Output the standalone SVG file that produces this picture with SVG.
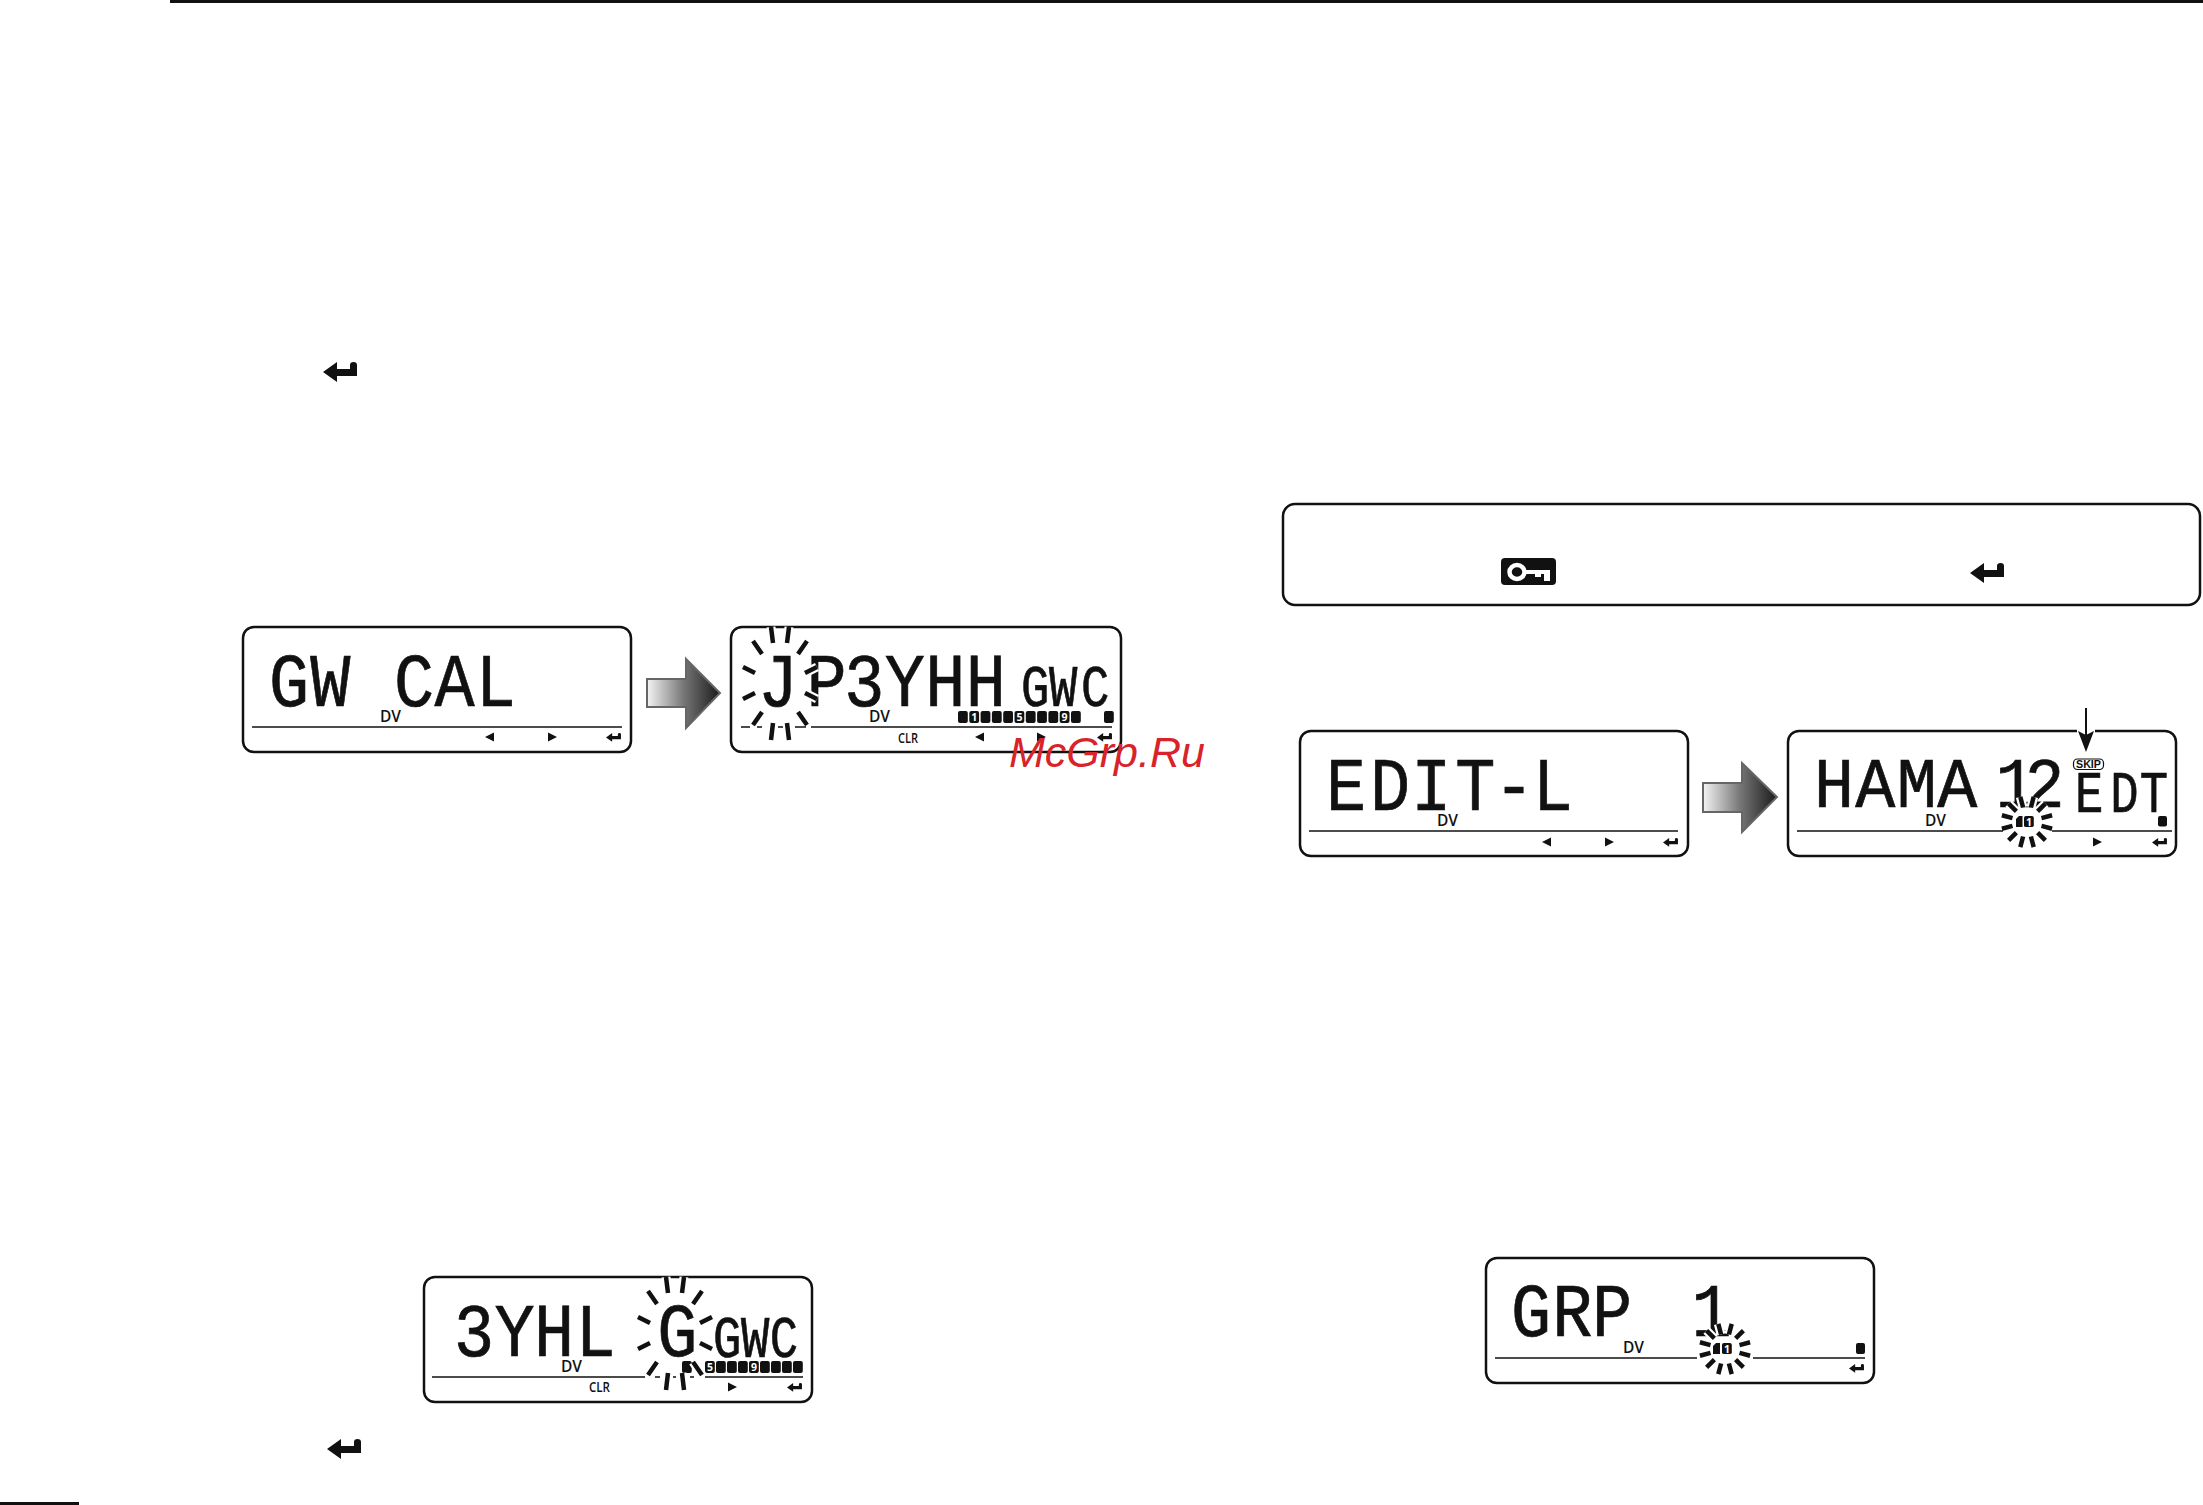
<svg xmlns="http://www.w3.org/2000/svg" width="2203" height="1505" viewBox="0 0 2203 1505">
<style>
text{font-family:"Liberation Sans",Arial,sans-serif}
.panel{fill:#fff;stroke:#111;stroke-width:2.5}
.rule{stroke:#111;stroke-width:1.6;fill:none}
.lcd{font-family:"Liberation Mono",monospace;font-size:76px;fill:#111;stroke:#111;stroke-width:.7}
.lcds{font-family:"Liberation Mono",monospace;font-size:59px;fill:#111;stroke:#111;stroke-width:.7}
.dv{font-family:"Open Sans",sans-serif;font-size:15.500px;font-weight:600;fill:#111}
.clr{font-family:"Open Sans",sans-serif;font-size:15px;font-weight:600;fill:#111}
.num{font-family:"Open Sans",sans-serif;font-size:10.500px;font-weight:700;fill:#fff;text-anchor:middle}
.ink{fill:#111}
.halo{stroke:#fff;stroke-width:9;fill:none}
.ray{stroke:#111;stroke-width:4.500;fill:none}
.block{stroke:#666;stroke-width:2;fill:url(#gr)}
</style>
<defs>
<linearGradient id="gr" x1="0" x2="1" y1="0" y2="0"><stop offset="0" stop-color="#f4f4f4"/><stop offset="0.5" stop-color="#777"/><stop offset="1" stop-color="#1a1a1a"/></linearGradient>
<path id="ret" d="M0 10L14 0V7H27V3Q27 0 30.500 0Q34 0 34 3V14H14V20Z"/>
<path id="lt" d="M0 0L9 -4.500V4.500Z"/>
<path id="rt" d="M0 -4.500L9 0L0 4.500Z"/>
<rect id="cell" width="9.800" height="12" rx="2"/>
<path id="big" d="M-9 -56L-7 -40M9 -56L7 -40M-27 -42L-18 -29M27 -42L18 -29M-37 -16L-25 -10M37 -16L25 -10M-37 16L-25 10M37 16L25 10M-27 42L-18 29M27 42L18 29M-9 57L-7 40M9 57L7 40"/>
<path id="small" d="M14.500 3.900L25.100 6.700M10.600 10.600L18.400 18.400M3.900 14.500L6.700 25.100M-14.500 3.900L-25.100 6.700M-10.600 10.600L-18.400 18.400M-3.900 14.500L-6.700 25.100M14.500 -3.900L25.100 -6.700M10.600 -10.600L18.400 -18.400M3.900 -14.500L6.700 -25.100M-14.500 -3.900L-25.100 -6.700M-10.600 -10.600L-18.400 -18.400M-3.900 -14.500L-6.700 -25.100"/>
</defs>
<rect width="2203" height="1505" fill="#fff"/>
<g id="page-rules">
<rect x="170" y="0" width="2033" height="3" class="ink"/>
<rect x="0" y="1502" width="79" height="3" class="ink"/>
<use href="#ret" class="ink" transform="translate(323,362)"/>
<use href="#ret" class="ink" transform="translate(327,1439)"/>
</g>

<g id="panel-gw-cal">
<rect x="243" y="627" width="388" height="125" rx="11" class="panel"/>
<text class="lcd" transform="translate(269,706) scale(.88,1)" x="0 47 94 142 188 235">GW CAL</text>
<text class="dv" x="380" y="722">DV</text>
<path class="rule" d="M252 727H622"/>
<use href="#lt" class="ink" x="485" y="737"/>
<use href="#rt" class="ink" x="548" y="737"/>
<use href="#ret" class="ink" transform="translate(606,733) scale(.44)"/>
</g>

<g id="panel-jp3yhh">
<rect x="731" y="627" width="390" height="125" rx="11" class="panel"/>
<text class="lcd" transform="translate(758,706) scale(.88,1)" x="0 55 98 144 190 236">JP3YHH</text>
<text class="lcds" transform="translate(1021,706) scale(.8,1)" x="0 35 75">GWC</text>
<use href="#big" class="halo" x="780" y="683"/>
<use href="#big" class="ray" x="780" y="683"/>
<text class="dv" x="869" y="722">DV</text>
<g class="ink">
<use href="#cell" x="958" y="711"/><use href="#cell" x="969.300" y="711"/><use href="#cell" x="980.600" y="711"/><use href="#cell" x="991.900" y="711"/><use href="#cell" x="1003.200" y="711"/><use href="#cell" x="1014.500" y="711"/><use href="#cell" x="1025.800" y="711"/><use href="#cell" x="1037.100" y="711"/><use href="#cell" x="1048.400" y="711"/><use href="#cell" x="1059.700" y="711"/><use href="#cell" x="1071" y="711"/><use href="#cell" x="1104" y="711"/>
</g>
<text class="num" x="974.200" y="721">1</text><text class="num" x="1019.400" y="721">5</text><text class="num" x="1064.600" y="721">9</text>
<path class="rule" d="M741 727H750M757 727H762M778 727H783M795 727H806M811 727H1112"/>
<text class="clr" x="898" y="743" textLength="20" lengthAdjust="spacingAndGlyphs">CLR</text>
<use href="#lt" class="ink" x="975" y="737"/>
<use href="#rt" class="ink" x="1037" y="737"/>
<use href="#ret" class="ink" transform="translate(1097,733) scale(.44)"/>
</g>

<g id="panel-3yhl">
<rect x="424" y="1277" width="388" height="125" rx="11" class="panel"/>
<text class="lcd" transform="translate(454,1356) scale(.88,1)" x="0 46 91 138 186 231">3YHL G</text>
<text class="lcds" transform="translate(713,1357) scale(.8,1)" x="0 35 71">GWC</text>
<g class="ink">
<use href="#cell" x="682" y="1361"/><use href="#cell" x="705" y="1361"/><use href="#cell" x="716" y="1361"/><use href="#cell" x="727" y="1361"/><use href="#cell" x="738" y="1361"/><use href="#cell" x="749" y="1361"/><use href="#cell" x="760" y="1361"/><use href="#cell" x="771" y="1361"/><use href="#cell" x="782" y="1361"/><use href="#cell" x="793" y="1361"/>
</g>
<text class="num" x="710" y="1371">5</text><text class="num" x="754" y="1371">9</text>
<use href="#big" class="halo" x="675" y="1333"/>
<use href="#big" class="ray" x="675" y="1333"/>
<text class="dv" x="561" y="1372">DV</text>
<path class="rule" d="M432 1377H645M655 1377H660M673 1377H676M690 1377H694M705 1377H803"/>
<text class="clr" x="589" y="1392" textLength="21" lengthAdjust="spacingAndGlyphs">CLR</text>
<use href="#rt" class="ink" x="728" y="1387"/>
<use href="#ret" class="ink" transform="translate(787,1383) scale(.44)"/>
</g>

<g id="note-box">
<rect x="1283" y="504" width="917" height="101" rx="12" class="panel"/>
<rect x="1501" y="558" width="55" height="27" rx="4" class="ink"/>
<ellipse cx="1517" cy="572" rx="7.500" ry="7" fill="none" stroke="#fff" stroke-width="4.500"/>
<path fill="#fff" d="M1525 570H1550V581H1544V574H1541V577H1535V574H1525Z"/>
<use href="#ret" class="ink" transform="translate(1970,563)"/>
</g>

<g id="panel-edit-l">
<rect x="1300" y="731" width="388" height="125" rx="11" class="panel"/>
<text class="lcd" transform="translate(1326,810) scale(.88,1)" x="0 50 97 147 191 235">EDIT-L</text>
<text class="dv" x="1437" y="826">DV</text>
<path class="rule" d="M1309 831H1678"/>
<use href="#lt" class="ink" x="1542" y="842"/>
<use href="#rt" class="ink" x="1605" y="842"/>
<use href="#ret" class="ink" transform="translate(1663,838) scale(.44)"/>
</g>

<g id="panel-hama">
<rect x="1788" y="731" width="388" height="125" rx="11" class="panel"/>
<text class="lcd" style="font-size:71px" transform="translate(1814,807) scale(.94,1)" x="0 44 88 131 175 193 224">HAMA 12</text>
<text class="lcds" transform="translate(2075,812) scale(.8,1)" x="0 44 81">EDT</text>
<rect x="2073.500" y="759" width="30" height="10.500" rx="4" fill="#fff" stroke="#111" stroke-width="1.200"/>
<text x="2088.500" y="768" font-size="10.500" font-weight="700" text-anchor="middle" fill="#111" textLength="25" lengthAdjust="spacingAndGlyphs">SKIP</text>
<use href="#small" class="halo" x="2027" y="822"/>
<path class="ink" d="M2016 819L2019 816H2022.500V827H2016Z"/>
<use href="#cell" class="ink" transform="translate(2024,816) scale(1,.92)"/>
<text class="num" x="2029" y="825.500">1</text>
<use href="#small" class="ray" x="2027" y="822"/>
<text class="dv" x="1925" y="826">DV</text>
<path class="rule" d="M1797 831H2003M2052 831H2172"/>
<rect x="2158" y="816" width="9" height="10.500" rx="2" class="ink"/>
<use href="#rt" class="ink" x="2093" y="842"/>
<use href="#ret" class="ink" transform="translate(2152,838) scale(.44)"/>
</g>

<g id="panel-grp">
<rect x="1486" y="1258" width="388" height="125" rx="11" class="panel"/>
<text class="lcd" transform="translate(1511,1336) scale(.88,1)" x="0 47 92 147 205">GRP 1</text>
<use href="#small" class="halo" x="1725" y="1349"/>
<path class="ink" d="M1713 1346L1716 1343H1720V1354H1713Z"/>
<use href="#cell" class="ink" transform="translate(1722,1343) scale(1,.92)"/>
<text class="num" x="1727" y="1352.500">1</text>
<use href="#small" class="ray" x="1725" y="1349"/>
<text class="dv" x="1623" y="1353">DV</text>
<path class="rule" d="M1495 1358H1697M1753 1358H1865"/>
<rect x="1856" y="1343" width="9" height="11" rx="2" class="ink"/>
<use href="#ret" class="ink" transform="translate(1849,1364) scale(.44)"/>
</g>

<g id="connectors">
<path class="block" d="M647 679H686V659L720 693L686 728V707H647Z"/>
<path class="block" d="M1703 783H1742V763L1777 797L1742 832V812H1703Z"/>
<rect x="2077" y="728" width="18" height="6" fill="#fff"/>
<path d="M2086 708V735" stroke="#111" stroke-width="2" fill="none"/>
<path class="ink" d="M2086 752L2078 731L2086 735L2094 731Z"/>
</g>

<g id="watermark">
<text x="1009" y="767" font-size="43" font-style="italic" fill="#d8232a">McGrp.Ru</text>
</g>
</svg>
